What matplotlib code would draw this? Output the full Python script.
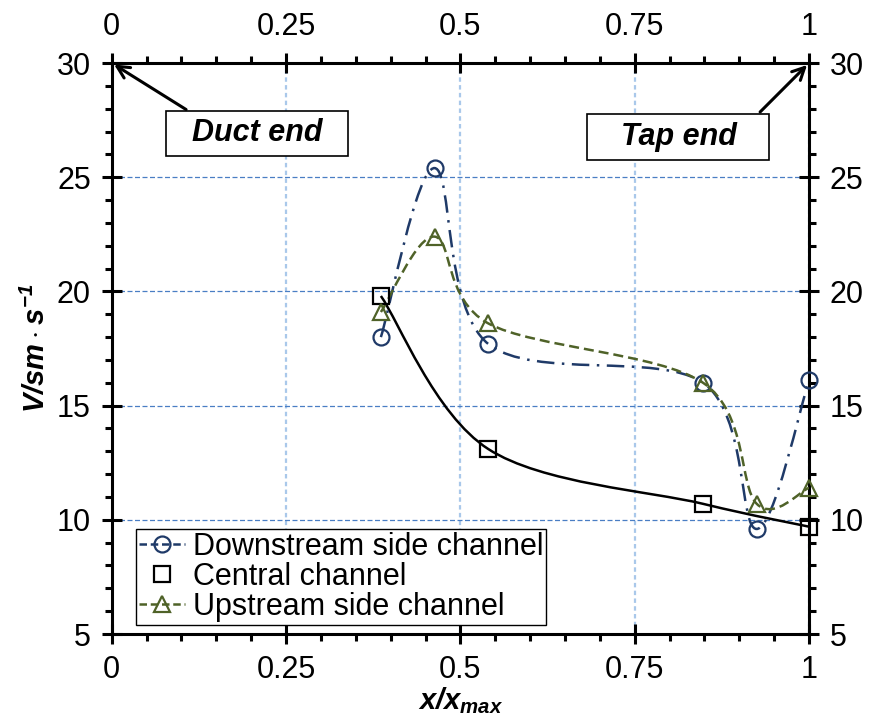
#Velocity along the channel, smoothed lines like the spreadsheet chart
import numpy as np
import matplotlib
matplotlib.use('Agg')
import matplotlib.pyplot as plt
from matplotlib.path import Path
from matplotlib.patches import PathPatch, Rectangle
from matplotlib.lines import Line2D
from matplotlib.ticker import MultipleLocator, FuncFormatter

plt.rcParams['font.family'] = ['Liberation Sans', 'DejaVu Sans']
plt.rcParams['mathtext.fontset'] = 'custom'
plt.rcParams['mathtext.it'] = 'Liberation Sans:italic:bold'
plt.rcParams['mathtext.rm'] = 'Liberation Sans:italic:bold'
plt.rcParams['mathtext.bf'] = 'Liberation Sans:italic:bold'

###################################################################
#data
x_down = [0.386, 0.463, 0.540, 0.848, 0.925, 1.0]
v_down = [18.0, 25.4, 17.7, 16.0, 9.6, 16.1]
x_cent = [0.386, 0.540, 0.848, 1.0]
v_cent = [19.8, 13.1, 10.7, 9.7]
x_up = [0.386, 0.463, 0.540, 0.848, 0.925, 1.0]
v_up = [19.1, 22.4, 18.6, 16.0, 10.7, 11.4]
labels = ['Downstream side channel', 'Central channel', 'Upstream side channel']
x_ticks = [0, 0.25, 0.5, 0.75, 1]
y_ticks = [5, 10, 15, 20, 25, 30]

c_down = '#1F3A68'
c_up = '#4F6228'
fs = 22

####################################################
#smoothed curve through the points (bezier, catmull-rom style)
def smooth_path(xs, ys):
    p = np.column_stack([xs, ys])
    n = len(p)
    verts = [p[0]]
    codes = [Path.MOVETO]
    for i in range(n - 1):
        p0 = p[i - 1] if i > 0 else p[i]
        p3 = p[i + 2] if i + 2 < n else p[i + 1]
        c1 = p[i] + (p[i + 1] - p0) / 6.0
        c2 = p[i + 1] - (p3 - p[i]) / 6.0
        verts += [c1, c2, p[i + 1]]
        codes += [Path.CURVE4] * 3
    return Path(verts, codes)

fig = plt.figure(figsize=(8.77, 7.27), dpi=100)
ax = fig.add_axes([0.1274, 0.1279, 0.7951, 0.7854])

ax.add_patch(PathPatch(smooth_path(x_cent, v_cent), fill=False, ec='black', lw=1.8, zorder=3))
ax.add_patch(PathPatch(smooth_path(x_down, v_down), fill=False, ec=c_down, lw=1.8,
                       ls=(0, (7, 3, 1, 3)), zorder=3))
ax.add_patch(PathPatch(smooth_path(x_up, v_up), fill=False, ec=c_up, lw=1.8,
                       ls=(0, (4, 2)), zorder=3))

ms = 11.5
ax.plot(x_down, v_down, ls='none', marker='o', ms=ms, mfc='none', mec=c_down, mew=1.6,
        zorder=4, clip_on=False)
ax.plot(x_cent, v_cent, ls='none', marker='s', ms=ms, mfc='none', mec='black', mew=1.6,
        zorder=4, clip_on=False)
ax.plot(x_up, v_up, ls='none', marker='^', ms=ms, mfc='none', mec=c_up, mew=1.6,
        zorder=4, clip_on=False)

ax.set_xlim(0, 1)
ax.set_ylim(5, 30)
ax.set_xticks(x_ticks)
ax.set_yticks(y_ticks)
ax.xaxis.set_minor_locator(MultipleLocator(0.05))
ax.yaxis.set_minor_locator(MultipleLocator(1))
ax.xaxis.set_major_formatter(FuncFormatter(lambda v, p: '%g' % v))

for s in ax.spines.values():
    s.set_linewidth(2.2)
ax.tick_params(which='both', top=True, right=True, labeltop=True, labelright=True,
               width=2.2, labelsize=fs)
ax.tick_params(which='major', direction='inout', length=14, pad=8)
ax.tick_params(which='minor', direction='out', length=5)

ax.yaxis.grid(True, ls=(0, (4, 2)), color='#4A7EC4', lw=0.9)
ax.xaxis.grid(True, ls=(0, (2, 1.5)), color='#A9C8EA', lw=1.6)
ax.set_axisbelow(True)

ax.set_xlabel(r'$x/x_{max}$', fontsize=21, labelpad=0)
ax.set_ylabel(r'$V/sm\cdot s^{-1}$', fontsize=21, labelpad=4)

#annotations: boxes and arrows to the axis corners
ax.add_patch(Rectangle((0.078, 25.93), 0.261, 1.97, fc='white', ec='black', lw=1.2, zorder=5))
ax.text(0.208, 26.92, 'Duct end', fontsize=fs, fontweight='bold', fontstyle='italic',
        ha='center', va='center', zorder=6)
ax.annotate('', xy=(0, 30), xytext=(0.110, 27.90),
            arrowprops=dict(arrowstyle='->', lw=2.2, color='black', mutation_scale=22),
            annotation_clip=False, zorder=6)
ax.add_patch(Rectangle((0.682, 25.75), 0.261, 2.02, fc='white', ec='black', lw=1.2, zorder=5))
ax.text(0.813, 26.76, 'Tap end', fontsize=fs, fontweight='bold', fontstyle='italic',
        ha='center', va='center', zorder=6)
ax.annotate('', xy=(1, 30), xytext=(0.927, 27.77),
            arrowprops=dict(arrowstyle='->', lw=2.2, color='black', mutation_scale=22),
            annotation_clip=False, zorder=6)

handles = [Line2D([], [], color=c_down, ls=(0, (3, 1.5)), lw=1.8, marker='o', ms=ms,
                  mfc='none', mec=c_down, mew=1.6),
           Line2D([], [], ls='none', marker='s', ms=ms, mfc='none', mec='black', mew=1.6),
           Line2D([], [], color=c_up, ls=(0, (3, 1.5)), lw=1.8, marker='^', ms=ms,
                  mfc='none', mec=c_up, mew=1.6)]
leg = ax.legend(handles, labels, loc='upper left', bbox_to_anchor=(0.035, 0.184),
                borderaxespad=0, fontsize=fs, frameon=True, fancybox=False,
                handlelength=1.5, handletextpad=0.25, labelspacing=0.0,
                borderpad=0.1, framealpha=1)
leg.get_frame().set_edgecolor('black')
leg.get_frame().set_linewidth(1.0)
leg.set_zorder(7)

fig.savefig('out.png', dpi=100)
